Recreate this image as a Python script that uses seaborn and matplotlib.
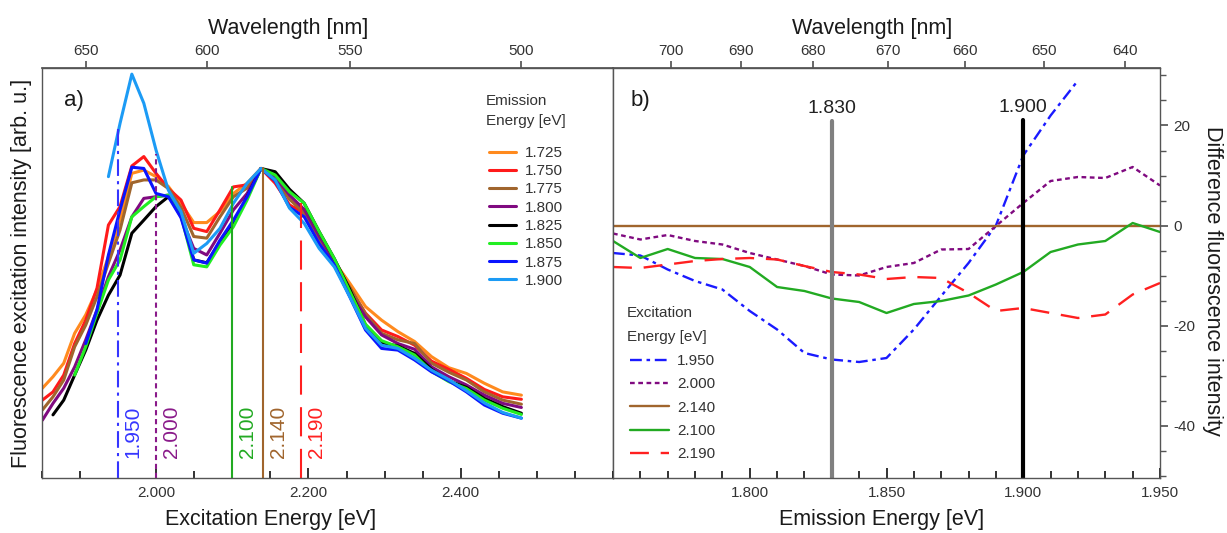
import numpy as np
import pandas as pd
import matplotlib
matplotlib.use('Agg')
import matplotlib.pyplot as plt
from matplotlib.lines import Line2D
from matplotlib.ticker import MultipleLocator, FixedLocator, FormatStrFormatter
import seaborn as sns

sns.set_theme(style='white')
plt.rcParams['font.family'] = ['Liberation Sans', 'DejaVu Sans']
plt.rcParams['axes.unicode_minus'] = False

# ---- panel a: excitation spectra, one per emission energy ----
exc_nm = [670, 665, 660, 655, 650, 645, 640, 635, 630, 625, 620, 615, 610, 605, 600, 595, 590, 585,
          580, 575, 570, 565, 560, 555, 550, 545, 540, 535, 530, 525, 520, 515, 510, 505, 500]
nan = np.nan
spec_1725 = [21.9, 24.7, 28.0, 35.3, 39.8, 45.9, 54.0, 63.0, 74.3, 75.1, 73.5, 71.1, 67.0, 62.3, 62.3, 65.0, 69.4, 71.9,
             75.5, 73.1, 68.0, 65.0, 58.0, 52.8, 47.5, 41.8, 38.5, 35.7, 33.3, 29.6, 26.9, 25.5, 23.1, 21.0, 20.2]
spec_1750 = [19.0, 21.0, 25.1, 32.8, 38.5, 46.3, 61.7, 66.2, 76.1, 78.4, 74.3, 70.6, 67.8, 60.9, 60.1, 65.4, 71.0, 71.5,
             75.5, 71.9, 66.6, 64.6, 57.2, 52.5, 46.3, 40.2, 36.1, 34.5, 32.4, 28.5, 26.5, 24.3, 21.6, 19.8, 19.2]
spec_1775 = [16.6, 19.8, 23.9, 32.0, 37.3, 44.2, 52.4, 60.5, 72.0, 72.7, 72.7, 70.6, 66.0, 58.9, 58.5, 63.7, 68.6, 70.7,
             75.5, 73.0, 68.0, 64.6, 58.0, 52.5, 46.5, 40.0, 35.3, 33.7, 32.8, 28.0, 25.8, 23.9, 21.0, 19.0, 18.0]
spec_1800 = [14.1, 18.2, 21.9, 27.1, 33.7, 41.0, 49.1, 55.6, 63.7, 68.2, 68.6, 69.0, 63.7, 56.0, 54.4, 59.7, 65.4, 69.4,
             75.5, 73.5, 69.0, 65.5, 59.0, 53.0, 45.4, 39.3, 34.9, 32.8, 31.4, 27.1, 24.7, 22.7, 20.2, 18.2, 17.2]
spec_1825 = [nan, 15.4, 19.0, 25.1, 31.2, 38.5, 44.6, 49.5, 59.7, 62.9, 66.2, 68.6, 64.6, 53.2, 52.5, 57.6, 62.1, 68.6,
             75.5, 74.7, 70.4, 67.0, 60.1, 53.5, 46.0, 37.3, 33.0, 32.2, 30.4, 26.5, 23.7, 22.1, 19.4, 17.4, 15.8]
spec_1850 = [nan, nan, nan, 25.1, 32.0, 40.2, 48.3, 53.2, 63.7, 66.2, 68.6, 69.0, 64.0, 52.0, 51.5, 56.8, 61.3, 67.8,
             75.5, 73.9, 69.8, 67.0, 60.1, 53.5, 45.5, 37.5, 33.5, 32.0, 30.0, 26.0, 23.5, 21.8, 19.0, 17.0, 15.5]
spec_1875 = [nan, nan, nan, nan, 32.8, 41.0, 54.4, 65.4, 75.8, 75.5, 69.4, 68.6, 63.5, 53.2, 52.4, 58.0, 62.9, 68.6,
             75.5, 72.5, 66.0, 63.7, 57.2, 52.0, 44.2, 36.1, 31.6, 31.2, 28.8, 25.9, 23.7, 21.0, 17.8, 15.8, 14.6]
spec_1900 = [nan, nan, nan, nan, nan, nan, 73.5, 86.5, 98.5, 91.4, 80.0, 70.2, 65.0, 54.8, 57.2, 60.9, 67.0, 71.9,
             75.5, 72.7, 65.8, 62.1, 56.0, 51.5, 44.2, 36.5, 32.4, 31.6, 29.2, 26.3, 24.0, 21.3, 18.3, 16.0, 14.6]

emission_labels = ['1.725', '1.750', '1.775', '1.800', '1.825', '1.850', '1.875', '1.900']
emission_spectra = [spec_1725, spec_1750, spec_1775, spec_1800, spec_1825, spec_1850, spec_1875, spec_1900]
emission_colors = ['#ff8a1e', '#ff1a1a', '#a0652d', '#800a80', '#000000', '#22ee22', '#0a14ff', '#1c9bf5']

# excitation energies picked for panel b (vertical markers in panel a)
mark_energy = [1.950, 2.000, 2.100, 2.140, 2.190]
mark_top = [86.0, 79.0, 71.0, 75.5, 67.0]
mark_labels = ['1.950', '2.000', '2.100', '2.140', '2.190']
mark_colors = ['#3535ff', '#8a1a8a', '#22aa22', '#a0652d', '#ff2020']
mark_styles = [(0, (8, 2.5, 1.5, 2.5)), (0, (2.5, 1.8)), '-', '-', (0, (14, 6))]

# ---- panel b: difference spectra vs emission energy ----
em_ev = [1.75, 1.76, 1.77, 1.78, 1.79, 1.80, 1.81, 1.82, 1.83, 1.84, 1.85,
         1.86, 1.87, 1.88, 1.89, 1.90, 1.91, 1.92, 1.93, 1.94, 1.95]
diff_1950 = [-5.5, -6.0, -8.8, -11.1, -12.8, -17.1, -20.8, -25.5, -26.8, -27.3, -26.5,
             -20.8, -14.1, -7.5, 0.0, 14.0, 22.0, 29.0, nan, nan, nan]
diff_2000 = [-1.6, -2.8, -1.9, -3.1, -3.8, -5.5, -6.8, -8.1, -9.8, -10.0, -8.3,
             -7.5, -4.8, -4.7, -0.1, 4.5, 8.9, 9.7, 9.5, 11.7, 8.0]
diff_2140 = [0.0] * 21
diff_2100 = [-3.1, -6.5, -4.7, -6.5, -6.7, -8.3, -12.3, -13.1, -14.6, -15.3, -17.5,
             -15.7, -15.1, -14.0, -11.8, -9.3, -5.3, -3.8, -3.1, 0.5, -1.3]
diff_2190 = [-8.3, -8.5, -7.8, -7.1, -6.7, -6.5, -6.8, -8.1, -9.3, -9.8, -10.7,
             -10.3, -10.5, -13.5, -17.1, -16.5, -17.5, -18.5, -17.8, -13.8, -11.5]

diff_labels = ['1.950', '2.000', '2.140', '2.100', '2.190']
diff_series = [diff_1950, diff_2000, diff_2140, diff_2100, diff_2190]
diff_colors = ['#1a1aff', '#800a80', '#a0652d', '#22aa22', '#ff2020']
diff_dashes = [(5, 2, 1.5, 2), (2, 1.5), '', '', (8, 5)]

ref_energy = [1.830, 1.900]
ref_top = [20.9, 21.0]
ref_colors = ['#808080', '#000000']

HC = 1239.84


def ev2nm(x):
    x = np.asarray(x, dtype=float)
    with np.errstate(divide='ignore', invalid='ignore'):
        return HC / x


txt = '#333333'
lab = '#1a1a1a'

fig = plt.figure(figsize=(12.27, 5.33), dpi=100)
ax1 = fig.add_axes([42 / 1227, 55 / 533, 571 / 1227, 410 / 533])
ax2 = fig.add_axes([613 / 1227, 55 / 533, 547 / 1227, 410 / 533])

# panel a
rows = []
for name, vals in zip(emission_labels, emission_spectra):
    for nm, v in zip(exc_nm, vals):
        rows.append({'Emission': name, 'Excitation': HC / nm, 'Intensity': v})
df_a = pd.DataFrame(rows).dropna()
sns.lineplot(data=df_a, x='Excitation', y='Intensity', hue='Emission', hue_order=emission_labels,
             palette=dict(zip(emission_labels, emission_colors)), estimator=None, sort=False,
             linewidth=2.2, legend=False, ax=ax1)

for e, top, c, ls, t in zip(mark_energy, mark_top, mark_colors, mark_styles, mark_labels):
    ax1.plot([e, e], [0, top], color=c, linestyle=ls, lw=1.5)
    ax1.text(e + 0.02, 5, t, rotation=90, color=c, fontsize=15, ha='center', va='bottom')

ax1.set_xlim(1.85, 2.6)
ax1.set_ylim(0, 100)
ax1.set_yticks([])
ax1.xaxis.set_major_locator(FixedLocator([2.0, 2.2, 2.4]))
ax1.xaxis.set_minor_locator(MultipleLocator(0.05))
ax1.xaxis.set_major_formatter(FormatStrFormatter('%.3f'))
ax1.tick_params(axis='x', which='both', direction='in', bottom=True, top=False,
                labelsize=11, labelcolor=txt, color='#222222', width=1.3)
ax1.tick_params(axis='x', which='major', length=7, pad=6)
ax1.tick_params(axis='x', which='minor', length=5)
ax1.set_xlabel('Excitation Energy [eV]', fontsize=15.5, color=lab)
ax1.xaxis.set_label_coords(0.40, -0.075)
ax1.set_ylabel('Fluorescence excitation intensity [arb. u.]', fontsize=15.5, color=lab)
ax1.yaxis.set_label_coords(-0.018, 0.5)
ax1.text(0.056, 0.92, 'a)', transform=ax1.transAxes, fontsize=16, color=lab, ha='center', va='center')

sec1 = ax1.secondary_xaxis('top', functions=(ev2nm, ev2nm))
sec1.set_xticks([650, 600, 550, 500])
sec1.tick_params(direction='out', length=5, pad=2, labelsize=11, labelcolor=txt, color='#555555')
sec1.set_xlabel('Wavelength [nm]', fontsize=15.5, color=lab)
sec1.xaxis.set_label_coords(0.431, 1.083, transform=ax1.transAxes)

h1 = [Line2D([], [], color=c, lw=2.2) for c in emission_colors]
ax1.legend(h1, emission_labels, loc='upper left', bbox_to_anchor=(0.783, 0.81), frameon=False,
           fontsize=11, labelcolor=txt, handlelength=1.76, handletextpad=0.6, labelspacing=0.28,
           borderpad=0, borderaxespad=0)
ax1.text(0.778, 0.920, 'Emission', transform=ax1.transAxes, fontsize=11, color=txt, va='center')
ax1.text(0.778, 0.870, 'Energy [eV]', transform=ax1.transAxes, fontsize=11, color=txt, va='center')

# panel b
rows = []
for name, vals in zip(diff_labels, diff_series):
    for e, v in zip(em_ev, vals):
        rows.append({'Excitation': name, 'Emission': e, 'Diff': v})
df_b = pd.DataFrame(rows).dropna()
sns.lineplot(data=df_b, x='Emission', y='Diff', hue='Excitation', style='Excitation',
             hue_order=diff_labels, style_order=diff_labels,
             palette=dict(zip(diff_labels, diff_colors)), dashes=dict(zip(diff_labels, diff_dashes)),
             estimator=None, sort=False, linewidth=1.7, legend=False, ax=ax2)

for e, top, c in zip(ref_energy, ref_top, ref_colors):
    ax2.plot([e, e], [-60, top], color=c, lw=3)
    ax2.text(e, top + 2.5, f'{e:.3f}', fontsize=14, color='#222222', ha='center', va='center')

ax2.set_xlim(1.75, 1.95)
ax2.set_ylim(-50.5, 31.5)
ax2.xaxis.set_major_locator(FixedLocator([1.80, 1.85, 1.90, 1.95]))
ax2.xaxis.set_minor_locator(MultipleLocator(0.01))
ax2.xaxis.set_major_formatter(FormatStrFormatter('%.3f'))
ax2.tick_params(axis='x', which='both', direction='in', bottom=True, top=False,
                labelsize=11, labelcolor=txt, color='#222222', width=1.3)
ax2.tick_params(axis='x', which='major', length=7, pad=6)
ax2.tick_params(axis='x', which='minor', length=5)
ax2.yaxis.tick_right()
ax2.set_yticks([-40, -20, 0, 20])
ax2.yaxis.set_minor_locator(MultipleLocator(5))
ax2.tick_params(axis='y', which='both', direction='out', left=False, right=True,
                labelsize=11, labelcolor=txt, color='#555555')
ax2.tick_params(axis='y', which='major', length=6)
ax2.tick_params(axis='y', which='minor', length=4)
ax2.set_ylabel('')
ax2.set_xlabel('Emission Energy [eV]', fontsize=15.5, color=lab)
ax2.xaxis.set_label_coords(0.491, -0.075)
ax2.text(0.051, 0.92, 'b)', transform=ax2.transAxes, fontsize=16, color=lab, ha='center', va='center')
fig.text(1213 / 1227, 1 - 281 / 533, 'Difference fluorescence intensity', rotation=270,
         fontsize=15.5, color=lab, ha='center', va='center')

sec2 = ax2.secondary_xaxis('top', functions=(ev2nm, ev2nm))
sec2.set_xticks([700, 690, 680, 670, 660, 650, 640])
sec2.tick_params(direction='out', length=5, pad=2, labelsize=11, labelcolor=txt, color='#555555')
sec2.set_xlabel('Wavelength [nm]', fontsize=15.5, color=lab)
sec2.xaxis.set_label_coords(0.473, 1.083, transform=ax2.transAxes)

h2 = []
for c, d in zip(diff_colors, diff_dashes):
    ln = Line2D([], [], color=c, lw=1.7)
    if d:
        ln.set_dashes(d)
    h2.append(ln)
ax2.legend(h2, diff_labels, loc='upper left', bbox_to_anchor=(0.031, 0.302), frameon=False,
           fontsize=11, labelcolor=txt, handlelength=2.55, handletextpad=0.52, labelspacing=0.61,
           borderpad=0, borderaxespad=0)
ax2.text(0.0256, 0.403, 'Excitation', transform=ax2.transAxes, fontsize=11, color=txt, va='center')
ax2.text(0.0256, 0.345, 'Energy [eV]', transform=ax2.transAxes, fontsize=11, color=txt, va='center')

for ax in (ax1, ax2):
    for s in ax.spines.values():
        s.set_color('#555555')
        s.set_linewidth(1.0)
for sec in (sec1, sec2):
    sec.spines['top'].set_color('#555555')

fig.savefig('out.png', dpi=100)
